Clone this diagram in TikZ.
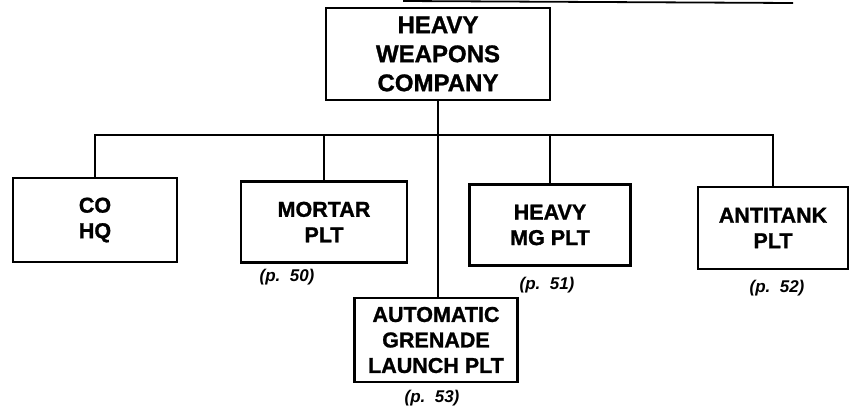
\documentclass[tikz,border=0pt]{standalone}
\usepackage{fontspec}
\setmainfont{Liberation Sans}[BoldFeatures={FakeBold=1.2}]
\usepackage{tikz}

\begin{document}
\begin{tikzpicture}[x=1pt,y=1pt,font=\bfseries,
  unit/.style={draw,line width=2.4pt,align=center,inner sep=0pt,font=\fontsize{21.5}{25.5}\selectfont\bfseries},
  page/.style={font=\fontsize{17}{20}\selectfont\bfseries\itshape},
  link/.style={line width=2pt}]
  \useasboundingbox (0,0) rectangle (851,-410);
  \draw[line width=1.8pt] (403,-1) -- (793,-3);
  \node[unit,minimum width=224,minimum height=92,font=\fontsize{24}{29}\selectfont\bfseries] (hwc) at (438,-54) {HEAVY\\WEAPONS\\COMPANY};
  \node[unit,minimum width=164,minimum height=84] (cohq) at (95,-220) {CO\\HQ};
  \node[unit,minimum width=166,minimum height=81] (mortar) at (324,-222) {MORTAR\\PLT};
  \node[unit,minimum width=161,minimum height=81] (hmg) at (550,-225) {HEAVY\\MG PLT};
  \node[unit,minimum width=150,minimum height=82] (at) at (773,-228) {ANTITANK\\PLT};
  \node[unit,minimum width=163,minimum height=84,font=\fontsize{21.5}{25.5}\selectfont\bfseries] (agl) at (436,-340) {AUTOMATIC\\GRENADE\\LAUNCH PLT};
  \node[page] (p50) at (287,-277) {(p.\ \ 50)};
  \node[page] (p51) at (547,-285) {(p.\ \ 51)};
  \node[page] (p52) at (777,-288) {(p.\ \ 52)};
  \node[page] (p53) at (432,-398) {(p.\ \ 53)};
  \coordinate (bar) at (0,-135);
  \draw[link] (cohq.north) |- (bar -| at.north) -- (at.north);
  \draw[link] (mortar.north) -- (mortar.north |- bar);
  \draw[link] (hmg.north) -- (hmg.north |- bar);
  \draw[link] (hwc.south) -- (hwc.south |- agl.north);
\end{tikzpicture}
\end{document}
